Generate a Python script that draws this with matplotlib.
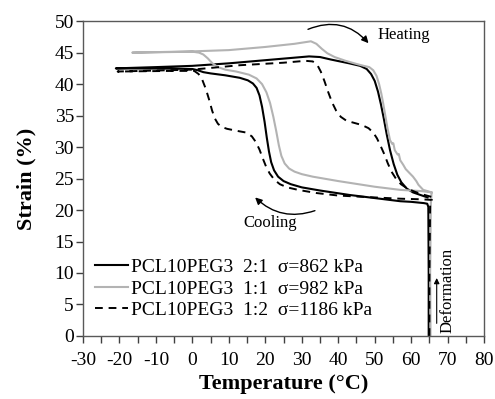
import matplotlib
matplotlib.use("Agg")
import matplotlib.pyplot as plt

plt.rcParams['font.family'] = ['Liberation Serif', 'DejaVu Serif']
plt.rcParams['axes.unicode_minus'] = False

# ---- data: PCL10PEG3 2:1 (sigma = 862 kPa) : deformation -> cooling -> heating
t_21 = [64.8, 64.8, 64.7, 64.4,
        63.5, 60, 57, 50, 43, 35, 30, 27, 25, 23.5, 22.4, 21.6, 21.0, 20.4, 19.8, 19.1, 18.4, 17.6, 16.6, 15.2, 13, 9, 5, 3, 1.5, 0, -5, -21,
        -10, 0, 10, 20, 28, 32, 35, 38, 43, 46, 47.8, 49, 50, 50.9, 51.7, 52.5, 53.3, 54.2, 55.2, 56.2, 57.3, 58.8, 60.5, 62.5, 64.5]
s_21 = [0, 10, 20.5, 21.0,
        21.1, 21.3, 21.4, 21.9, 22.4, 23.1, 23.6, 24.1, 24.6, 25.3, 26.3, 27.6, 29.3, 31.5, 34.0, 36.4, 38.2, 39.4, 40.1, 40.6, 41.0, 41.4, 41.7, 41.9, 42.2, 42.4, 42.45, 42.5,
        42.7, 42.9, 43.3, 43.8, 44.2, 44.4, 44.3, 43.9, 43.3, 42.9, 42.4, 41.6, 40.5, 38.8, 36.8, 34.5, 32.0, 29.5, 27.3, 25.6, 24.4, 23.4, 22.8, 22.4, 22.0]

# ---- PCL10PEG3 1:1 (sigma = 982 kPa)
t_11 = [65.3, 65.2, 65.4, 65.6,
        63, 60, 57, 50, 40, 33, 30, 28, 26.5, 25.3, 24.4, 23.7, 23.0, 22.2, 21.3, 20.3, 19.1, 17.6, 15.5, 12, 9, 7, 5.5, 4.2, 3, 1.8, 0, -5, -16.5,
        0, 10, 20, 28, 32.5, 34, 35.5, 37, 39, 42, 45, 47, 48.5, 49.6, 50.5, 51.2, 51.8, 52.3, 52.9, 53.5, 54.2, 54.8, 55.1, 55.5, 56.3, 56.6, 57, 57.8, 58.5, 59.5, 60.5, 61.4, 62, 63.3, 64.5, 65.6]
s_11 = [0, 10, 21.0, 22.8,
        23.0, 23.1, 23.2, 23.7, 24.6, 25.3, 25.7, 26.1, 26.6, 27.4, 28.6, 30.3, 32.5, 34.8, 37.0, 38.7, 40.0, 40.9, 41.5, 42.0, 42.3, 42.7, 43.3, 44.1, 44.7, 45.0, 45.15, 45.1, 45.0,
        45.2, 45.4, 45.9, 46.4, 46.8, 46.4, 45.6, 44.9, 44.3, 43.7, 43.2, 42.9, 42.7, 42.2, 41.3, 40.0, 38.5, 37.0, 35.0, 33.0, 31.1, 30.5, 30.6, 29.5, 28.8, 28.9, 27.9, 27.2, 26.5, 25.9, 25.3, 24.6, 24.0, 23.2, 23.0, 22.8]

# ---- PCL10PEG3 1:2 (sigma = 1186 kPa)
t_12 = [65.0, 65.0, 65.2, 65.7,
        63, 57, 50, 40, 34, 29, 26, 24, 22.5, 21.2, 20.2, 19.3, 18.4, 17.4, 16.3, 14.8, 12, 9.5, 8, 7, 6.2, 5.4, 4.6, 3.7, 2.7, 1.7, 0.5, -5, -20.5,
        0, 13, 25, 31, 33, 34.2, 35.2, 36.2, 37.2, 38.3, 39.4, 40.7, 42.2, 44, 46.5, 48.3, 49.6, 50.6, 51.6, 52.6, 53.6, 54.6, 55.8, 57.2, 59, 61, 63, 65.5]
s_12 = [0, 10, 21.0, 21.6,
        21.7, 21.8, 22.0, 22.3, 22.7, 23.2, 23.6, 24.1, 24.8, 25.8, 26.9, 28.2, 29.6, 30.8, 31.7, 32.3, 32.6, 32.9, 33.2, 33.7, 34.5, 35.8, 37.5, 39.2, 40.7, 41.6, 42.1, 42.1, 42.0,
        42.3, 43.0, 43.4, 43.7, 43.6, 43.1, 42.0, 40.5, 38.8, 37.1, 35.8, 34.8, 34.2, 33.9, 33.5, 33.0, 32.3, 31.4, 30.2, 28.9, 27.4, 26.1, 25.0, 24.1, 23.4, 22.9, 22.5, 22.1]

labels = ["PCL10PEG3  2:1  \u03c3=862 kPa",
          "PCL10PEG3  1:1  \u03c3=982 kPa",
          "PCL10PEG3  1:2  \u03c3=1186 kPa"]
x_ticks = list(range(-30, 81, 10))
y_ticks = list(range(0, 51, 5))

fig = plt.figure(figsize=(4.95, 3.99), dpi=100)
ax = fig.add_axes([0.1677, 0.158, 0.8103, 0.789])

ax.plot(t_21, s_21, color='black', lw=1.5, label=labels[0])
ax.plot(t_11, s_11, color='#b3b3b3', lw=1.5, label=labels[1])
ax.plot(t_12, s_12, color='black', lw=1.4, ls=(0, (4, 3)), label=labels[2])

ax.set_xlim(-30, 80)
ax.set_ylim(0, 50)
ax.set_xticks(x_ticks)
ax.set_xticks(list(range(-25, 80, 10)), minor=True)
ax.set_yticks(y_ticks)
ax.tick_params(which='both', direction='out', length=5, width=1, colors='#404040',
               labelsize=14, labelcolor='black')
ax.tick_params(axis='x', which='both', pad=6.5)
ax.tick_params(axis='y', which='both', pad=1.5)
for sp in ax.spines.values():
    sp.set_color('#595959')
    sp.set_linewidth(1.0)

ax.set_xlabel('Temperature (\u00b0C)', fontsize=16, fontweight='bold', labelpad=4)
ax.set_ylabel('Strain (%)', fontsize=16, fontweight='bold', labelpad=13)

# annotations
ax.text(58.1, 47.8, 'Heating', fontsize=12, ha='center', va='center')
ax.annotate('', xy=(48.3, 46.5), xytext=(31.7, 48.7),
            arrowprops=dict(arrowstyle='-|>', color='black', lw=1, mutation_scale=10,
                            connectionstyle='arc3,rad=-0.35', shrinkA=0, shrinkB=0))
ax.text(21.3, 17.9, 'Cooling', fontsize=12, ha='center', va='center')
ax.annotate('', xy=(17.2, 22.0), xytext=(33.6, 19.9),
            arrowprops=dict(arrowstyle='-|>', color='black', lw=1, mutation_scale=10,
                            connectionstyle='arc3,rad=-0.3', shrinkA=0, shrinkB=0))
ax.text(70.1, 7.3, 'Deformation', fontsize=12, rotation=90, ha='center', va='center')
ax.annotate('', xy=(67.0, 9.2), xytext=(67.0, 2.0),
            arrowprops=dict(arrowstyle='-|>', color='black', lw=0.8, mutation_scale=8,
                            shrinkA=0, shrinkB=0))

leg = ax.legend(loc='lower left', bbox_to_anchor=(-0.003, 0.01), frameon=False, fontsize=14,
                handlelength=1.65, handletextpad=0.2, labelspacing=0.2, borderaxespad=0.3)

fig.savefig('out.png', dpi=100)
